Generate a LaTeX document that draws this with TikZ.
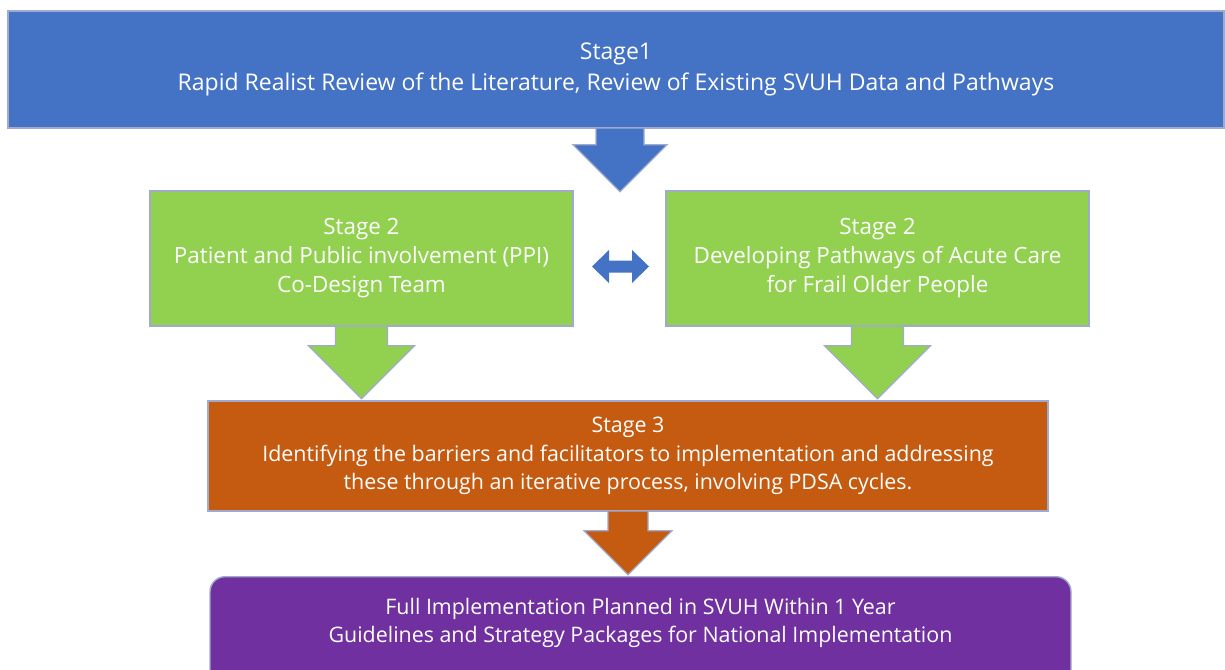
\documentclass[tikz,border=0pt]{standalone}
\usepackage{fontspec}
\setmainfont{Open Sans}
\usetikzlibrary{calc, positioning}

\definecolor{stageblue}{HTML}{4472C4}
\definecolor{stagegreen}{HTML}{92D050}
\definecolor{stageorange}{HTML}{C55A11}
\definecolor{stagepurple}{HTML}{7030A0}
\definecolor{edgegrey}{RGB}{160,170,205}

\begin{document}
\begin{tikzpicture}[x=0.5pt, y=-0.5pt,
    every node/.style={font=\fontsize{10.7}{14.3}\selectfont, text=white, align=center},
    stagebox/.style={draw=edgegrey, line width=0.7pt, inner sep=0pt},
    blockarrow/.style={draw=edgegrey, line width=0.6pt},
]
\clip (0,0) rectangle (1225,669);
\fill[white] (0,0) rectangle (1225,669);

% boxes
\node[stagebox, fill=stageblue, minimum width=608pt, minimum height=58.5pt,
    font=\fontsize{11.5}{15.5}\selectfont] (stageone) at (616,69.5)
    {Stage1\\Rapid Realist Review of the Literature, Review of Existing SVUH Data and Pathways};
\node[stagebox, fill=stagegreen, minimum width=211.5pt, minimum height=67.5pt,
    font=\fontsize{11.2}{14.5}\selectfont] (ppi) at (361.5,258.5)
    {Stage 2\\Patient and Public involvement (PPI)\\Co-Design Team};
\node[stagebox, fill=stagegreen, minimum width=211.5pt, minimum height=67.5pt,
    font=\fontsize{11.2}{14.5}\selectfont] (pathways) at (877.5,258.5)
    {Stage 2\\Developing Pathways of Acute Care\\for Frail Older People};
\node[stagebox, fill=stageorange, minimum width=420pt, minimum height=55pt] (stagethree) at (628,456)
    {Stage 3\\Identifying the barriers and facilitators to implementation and addressing\\these through an iterative process, involving PDSA cycles.};
\node[stagebox, fill=stagepurple, minimum width=430.5pt, minimum height=75pt, rounded corners=7.5pt, anchor=north] (final) at (640.5,576) {};
\node (finaltext) at ($(final.north)+(0,47)$)
    {Full Implementation Planned in SVUH Within 1 Year\\Guidelines and Strategy Packages for National Implementation};

% block arrows
\filldraw[blockarrow, fill=stageblue] ($(stageone.south)+(-20,0)$) -- ++(0,16) -- ++(-23,0)
    -- ++(47,47) -- ++(47,-47) -- ++(-23,0) -- ++(0,-16);
\filldraw[blockarrow, fill=stagegreen] ($(ppi.south)+(-26,0)$) -- ++(0,19) -- ++(-27,0)
    -- ++(53,53) -- ++(53,-53) -- ++(-27,0) -- ++(0,-19);
\filldraw[blockarrow, fill=stagegreen] ($(pathways.south)+(-26,0)$) -- ++(0,19) -- ++(-27,0)
    -- ++(53,53) -- ++(53,-53) -- ++(-27,0) -- ++(0,-19);
\filldraw[blockarrow, fill=stageorange] ($(stagethree.south)+(-20,0)$) -- ++(0,19) -- ++(-24,0)
    -- ++(44,44) -- ++(44,-44) -- ++(-24,0) -- ++(0,-19);

% two-way arrow
\coordinate (link) at ($(ppi.east)!0.5!(pathways.west)+(1,8)$);
\fill[stageblue] ($(link)+(-28.5,0)$) -- ++(17,-16.5) -- ++(0,10.5) -- ++(23,0) -- ++(0,-10.5)
    -- ++(17,16.5) -- ++(-17,16.5) -- ++(0,-10.5) -- ++(-23,0) -- ++(0,10.5) -- cycle;
\end{tikzpicture}
\end{document}
